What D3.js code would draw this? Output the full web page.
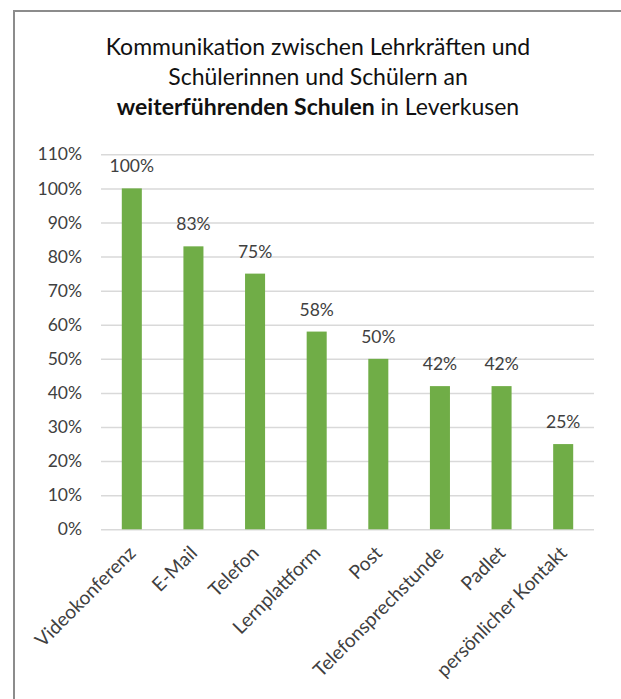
<!DOCTYPE html>
<html>
<head>
<meta charset="utf-8">
<script src="https://cdn.jsdelivr.net/npm/d3@7"></script>
<style>
  body { margin: 0; background: #fff; }
  svg { display: block; font-family: Lato, "Open Sans", sans-serif; }
</style>
</head>
<body>
<svg id="chart" width="621" height="699"></svg>
<script>
// chart data
var categories = [ 'Videokonferenz', 'E-Mail', 'Telefon', 'Lernplattform', 'Post',
                   'Telefonsprechstunde', 'Padlet', 'persönlicher Kontakt' ];
var values     = [ 1.00, 0.83, 0.75, 0.58, 0.50, 0.42, 0.42, 0.25 ];
var yTicks     = [ 0, 0.1, 0.2, 0.3, 0.4, 0.5, 0.6, 0.7, 0.8, 0.9, 1.0, 1.1 ];
var titleLines = [
  [ { t: 'Kommunikation zwischen Lehrkräften und', b: false } ],
  [ { t: 'Schülerinnen und Schülern an', b: false } ],
  [ { t: 'weiterführenden Schulen', b: true }, { t: ' in Leverkusen', b: false } ]
];

// plot area
var plotLeft = 101, plotRight = 594, plotTop = 154.3, plotBottom = 529.3;

var svg = d3.select('#chart');

// outer frame (runs past right and bottom edge of the picture)
svg.append('rect')
   .attr('x', 14).attr('y', 11)
   .attr('width', 640).attr('height', 720)
   .attr('fill', 'none')
   .attr('stroke', '#8c8c8c')
   .attr('stroke-width', 2);

// title
var title = svg.append('text')
   .attr('text-anchor', 'middle')
   .attr('fill', '#111')
   .style('font-size', '23px');
titleLines.forEach(function (line, i) {
  var row = title.append('tspan').attr('x', 318).attr('y', 55 + i * 30);
  line.forEach(function (p) {
    row.append('tspan').text(p.t).attr('font-weight', p.b ? 'bold' : null);
  });
});

var xScale = d3.scaleBand()
   .domain(categories)
   .range([ plotLeft, plotRight ])
   .paddingInner(0.675)
   .paddingOuter(0.3375);

var yScale = d3.scaleLinear()
   .domain([ 0, 1.1 ])
   .range([ plotBottom, plotTop ]);

// gridlines + y labels
var yAxis = d3.axisLeft(yScale)
   .tickValues(yTicks)
   .tickFormat(d3.format('.0%'))
   .tickSize(-(plotRight - plotLeft))
   .tickPadding(19);

var gy = svg.append('g')
   .attr('transform', 'translate(' + plotLeft + ',0)')
   .call(yAxis);
gy.select('.domain').remove();
gy.selectAll('line').attr('stroke', '#d9d9d9').attr('stroke-width', 1.5);
gy.selectAll('text')
   .attr('fill', '#404040')
   .style('font-size', '17.5px')
   .style('font-family', 'Lato, sans-serif');

// bars
svg.selectAll('.bar')
   .data(values)
   .enter()
   .append('rect')
   .attr('class', 'bar')
   .attr('x', function (d, i) { return xScale(categories[i]); })
   .attr('y', function (d) { return yScale(d); })
   .attr('width', xScale.bandwidth())
   .attr('height', function (d) { return yScale(0) - yScale(d); })
   .attr('fill', '#70ad47');

// value labels
svg.selectAll('.val')
   .data(values)
   .enter()
   .append('text')
   .attr('class', 'val')
   .attr('x', function (d, i) { return xScale(categories[i]) + xScale.bandwidth() / 2; })
   .attr('y', function (d) { return yScale(d) - 16; })
   .attr('text-anchor', 'middle')
   .attr('fill', '#404040')
   .style('font-size', '17.5px')
   .text(function (d) { return d3.format('.0%')(d); });

// category labels, rotated
svg.selectAll('.cat')
   .data(categories)
   .enter()
   .append('text')
   .attr('class', 'cat')
   .attr('text-anchor', 'end')
   .attr('fill', '#404040')
   .style('font-size', '19.2px')
   .attr('transform', function (d) {
     var cx = xScale(d) + xScale.bandwidth() / 2;
     return 'translate(' + (cx + 5) + ',' + (plotBottom + 25) + ') rotate(-45)';
   })
   .text(function (d) { return d; });
</script>
</body>
</html>
